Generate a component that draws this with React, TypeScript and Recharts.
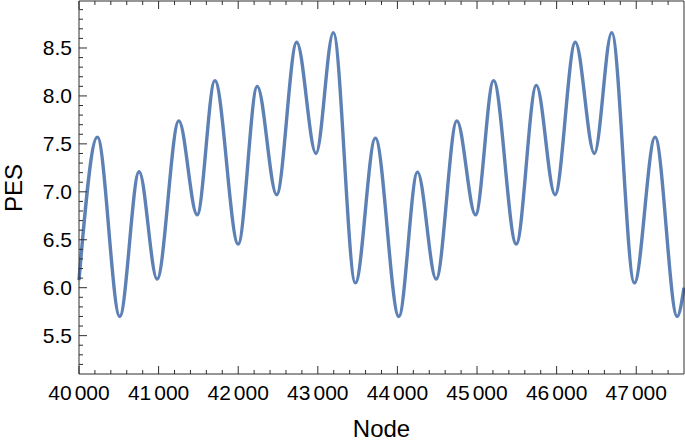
import React from 'react';
import { LineChart, Line, XAxis, YAxis } from 'recharts';

const nodes = [
  40000, 40231, 40512, 40755, 40981, 41254, 41484, 41707, 42000, 42239, 42483,
  42735, 42977, 43195, 43472, 43723, 44018, 44252, 44487, 44747, 44981, 45208,
  45493, 45745, 45980, 46235, 46474, 46692, 46977, 47237, 47514, 47600,
];
const pesValues = [
  6.08, 7.57, 5.7, 7.21, 6.09, 7.74, 6.76, 8.16, 6.455, 8.1, 6.97,
  8.56, 7.4, 8.66, 6.05, 7.56, 5.7, 7.205, 6.09, 7.74, 6.76, 8.16,
  6.455, 8.11, 6.97, 8.56, 7.4, 8.66, 6.05, 7.57, 5.7, 6.0,
];

const xTicks = [
  40000, 40200, 40400, 40600, 40800, 41000, 41200, 41400, 41600, 41800,
  42000, 42200, 42400, 42600, 42800, 43000, 43200, 43400, 43600, 43800,
  44000, 44200, 44400, 44600, 44800, 45000, 45200, 45400, 45600, 45800,
  46000, 46200, 46400, 46600, 46800, 47000, 47200, 47400,
];
const xMajorTicks = [40000, 41000, 42000, 43000, 44000, 45000, 46000, 47000];
const yTicks = [
  5.2, 5.3, 5.4, 5.5, 5.6, 5.7, 5.8, 5.9, 6.0, 6.1, 6.2, 6.3, 6.4, 6.5, 6.6,
  6.7, 6.8, 6.9, 7.0, 7.1, 7.2, 7.3, 7.4, 7.5, 7.6, 7.7, 7.8, 7.9, 8.0, 8.1,
  8.2, 8.3, 8.4, 8.5, 8.6, 8.7, 8.8, 8.9,
];
const yMajorTicks = [5.5, 6.0, 6.5, 7.0, 7.5, 8.0, 8.5];

const xTitle = 'Node';
const yTitle = 'PES';

const data = nodes.map((n, i) => ({ node: n, pes: pesValues[i] }));

const FONT = '"Liberation Sans", Arial, Helvetica, sans-serif';
const FRAME = '#2e2e2e';
const LINE = '#5E81B5';

const isXMajor = (v: number) => xMajorTicks.includes(v);
const isYMajor = (v: number) => yMajorTicks.some((m) => Math.abs(m - v) < 1e-6);

const fmtX = (v: number) => {
  const th = Math.floor(v / 1000);
  return { a: String(th), b: '000' };
};

const BottomTick = (props: any) => {
  const { x, y, payload } = props;
  const v = payload.value;
  const major = isXMajor(v);
  const f = fmtX(v);
  return (
    <g>
      <line x1={x} x2={x} y1={y} y2={y - (major ? 8 : 4)} stroke={FRAME} strokeWidth={1} />
      {major && (
        <text x={x} y={y + 26} textAnchor="middle" fontSize={21} fontFamily={FONT} fill="#000">
          <tspan>{f.a}</tspan>
          <tspan dx={3}>{f.b}</tspan>
        </text>
      )}
    </g>
  );
};

const TopTick = (props: any) => {
  const { x, y, payload } = props;
  const major = isXMajor(payload.value);
  return <line x1={x} x2={x} y1={y} y2={y + (major ? 8 : 4)} stroke={FRAME} strokeWidth={1} />;
};

const LeftTick = (props: any) => {
  const { x, y, payload } = props;
  const v = payload.value;
  const major = isYMajor(v);
  return (
    <g>
      <line x1={x} x2={x + (major ? 8 : 4)} y1={y} y2={y} stroke={FRAME} strokeWidth={1} />
      {major && (
        <text x={x - 7} y={y + 7.5} textAnchor="end" fontSize={21} fontFamily={FONT} fill="#000">
          {v.toFixed(1)}
        </text>
      )}
    </g>
  );
};

const RightTick = (props: any) => {
  const { x, y, payload } = props;
  const major = isYMajor(payload.value);
  return <line x1={x} x2={x - (major ? 8 : 4)} y1={y} y2={y} stroke={FRAME} strokeWidth={1} />;
};

export default function App() {
  return (
    <div style={{ position: 'absolute', left: 0, top: 0, width: 685, height: 443 }}>
      <LineChart width={685} height={443} data={data} margin={{ top: 0, right: 0, bottom: 0, left: 0 }}>
        <XAxis
          xAxisId="bottom"
          dataKey="node"
          type="number"
          domain={[40000, 47600]}
          ticks={xTicks}
          interval={0}
          orientation="bottom"
          height={69}
          tickSize={0}
          tickMargin={0}
          tickLine={false}
          axisLine={{ stroke: FRAME, strokeWidth: 1 }}
          tick={BottomTick}
        />
        <XAxis
          xAxisId="top"
          dataKey="node"
          type="number"
          domain={[40000, 47600]}
          ticks={xTicks}
          interval={0}
          orientation="top"
          height={1}
          tickSize={0}
          tickMargin={0}
          tickLine={false}
          axisLine={{ stroke: FRAME, strokeWidth: 1 }}
          tick={TopTick}
        />
        <YAxis
          yAxisId="left"
          type="number"
          domain={[5.1, 8.99]}
          ticks={yTicks}
          interval={0}
          orientation="left"
          width={79}
          tickSize={0}
          tickMargin={0}
          tickLine={false}
          axisLine={{ stroke: FRAME, strokeWidth: 1 }}
          tick={LeftTick}
        />
        <YAxis
          yAxisId="right"
          type="number"
          domain={[5.1, 8.99]}
          ticks={yTicks}
          interval={0}
          orientation="right"
          width={1}
          tickSize={0}
          tickMargin={0}
          tickLine={false}
          axisLine={{ stroke: FRAME, strokeWidth: 1 }}
          tick={RightTick}
        />
        <Line
          xAxisId="bottom"
          yAxisId="left"
          type="monotone"
          dataKey="pes"
          stroke={LINE}
          strokeWidth={3.4}
          dot={false}
          activeDot={false}
          isAnimationActive={false}
        />
      </LineChart>
      <svg
        width={685}
        height={443}
        style={{ position: 'absolute', left: 0, top: 0, pointerEvents: 'none' }}
      >
        <text x={381.5} y={437} textAnchor="middle" fontSize={24} fontFamily={FONT} fill="#000">
          {xTitle}
        </text>
        <text
          x={22}
          y={188}
          textAnchor="middle"
          fontSize={24}
          fontFamily={FONT}
          fill="#000"
          transform="rotate(-90, 22, 188)"
        >
          {yTitle}
        </text>
      </svg>
    </div>
  );
}
